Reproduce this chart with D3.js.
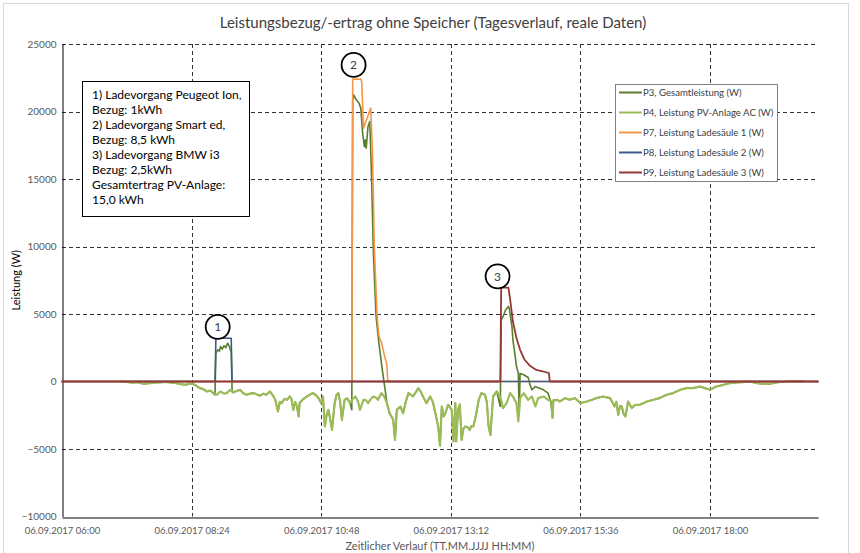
<!DOCTYPE html>
<html>
<head>
<meta charset="utf-8">
<script src="https://cdn.jsdelivr.net/npm/d3@7"></script>
<style>
  html, body { margin: 0; padding: 0; background: #fff; }
  svg { display: block; font-family: Lato, "Open Sans", sans-serif; }
</style>
</head>
<body>
<svg id="chart" width="860" height="553"></svg>
<script>
// ---------------- DATA ----------------
const titleText = "Leistungsbezug/-ertrag ohne Speicher (Tagesverlauf, reale Daten)";
const xAxisTitle = "Zeitlicher Verlauf (TT.MM.JJJJ HH:MM)";
const yAxisTitle = "Leistung (W)";
const dateText = "06.09.2017";

const xTickTimes = ["06:00", "08:24", "10:48", "13:12", "15:36", "18:00"];
const xDomain = ["06:00", "20:00"];
const yTicks = [-10000, -5000, 0, 5000, 10000, 15000, 20000, 25000];

const seriesNames = [
  "P3, Gesamtleistung (W)",
  "P4, Leistung PV-Anlage AC (W)",
  "P7, Leistung Ladesäule 1 (W)",
  "P8, Leistung Ladesäule 2 (W)",
  "P9, Leistung Ladesäule 3 (W)"
];

// P4: PV-Anlage (W)
const p4 = [
  ["07:06", 0], ["07:12", -30], ["07:18", -90], ["07:24", -60], ["07:30", -170], ["07:38", -120],
  ["07:45", -60], ["07:49", -74], ["07:55", -30], ["08:00", -74], ["08:07", -124], ["08:12", -200],
  ["08:18", -245], ["08:22", -150], ["08:25", -170], ["08:29", -300], ["08:33", -490], ["08:37", -560],
  ["08:41", -740], ["08:45", -680], ["08:48", -860], ["08:52", -985], ["08:56", -740], ["09:00", -900],
  ["09:03", -860], ["09:07", -615], ["09:10", -810], ["09:14", -700], ["09:18", -615], ["09:21", -850],
  ["09:25", -985], ["09:29", -900], ["09:33", -860], ["09:36", -950], ["09:40", -1060], ["09:44", -900],
  ["09:47", -985], ["09:51", -740], ["09:54", -1000], ["09:57", -1355], ["10:00", -2220], ["10:02", -1500],
  ["10:04", -1600], ["10:07", -1300], ["10:10", -1355], ["10:13", -1110], ["10:15", -1300], ["10:17", -2100],
  ["10:19", -1500], ["10:21", -1850], ["10:23", -2590], ["10:24", -1600], ["10:28", -1300], ["10:32", -1110],
  ["10:36", -950], ["10:39", -860], ["10:42", -1000], ["10:45", -1230], ["10:48", -1600], ["10:50", -1110],
  ["10:52", -3330], ["10:54", -2500], ["10:56", -2100], ["10:58", -2800], ["11:00", -3580], ["11:03", -1600],
  ["11:05", -1000], ["11:07", -860], ["11:09", -1500], ["11:11", -2840], ["11:14", -1355], ["11:17", -1250],
  ["11:20", -1600], ["11:23", -1300], ["11:26", -1110], ["11:29", -1500], ["11:31", -2100], ["11:35", -1355],
  ["11:38", -1400], ["11:40", -1600], ["11:43", -1300], ["11:46", -1110], ["11:49", -1200], ["11:51", -1355],
  ["11:55", -860], ["11:58", -1100], ["12:01", -1600], ["12:04", -2350], ["12:08", -2840], ["12:10", -4320],
  ["12:12", -2100], ["12:16", -1850], ["12:19", -2350], ["12:22", -1500], ["12:25", -860], ["12:28", -1000],
  ["12:30", -1110], ["12:33", -800], ["12:36", -490], ["12:39", -800], ["12:41", -1110], ["12:45", -1600],
  ["12:49", -1110], ["12:52", -1500], ["12:54", -2100], ["12:58", -3330], ["13:00", -4760], ["13:02", -1850],
  ["13:04", -2590], ["13:06", -2350], ["13:09", -1725], ["13:13", -2100], ["13:15", -4440], ["13:17", -1600],
  ["13:18", -4440], ["13:20", -2100], ["13:22", -1700], ["13:24", -4320], ["13:26", -3500], ["13:28", -3330],
  ["13:31", -3400], ["13:33", -3580], ["13:35", -3300], ["13:37", -3330], ["13:40", -2500], ["13:43", -1355],
  ["13:46", -860], ["13:50", -985], ["13:52", -1500], ["13:54", -3330], ["13:56", -3950], ["13:59", -1110],
  ["14:03", -740], ["14:07", -1110], ["14:10", -1970], ["14:14", -1600], ["14:18", -860], ["14:21", -1110],
  ["14:25", -1600], ["14:27", -2960], ["14:29", -1230], ["14:33", -860], ["14:38", -1355], ["14:42", -1110],
  ["14:46", -1850], ["14:49", -1230], ["14:55", -1110], ["15:00", -1355], ["15:04", -1480], ["15:05", -2700],
  ["15:06", -1400], ["15:10", -1355], ["15:13", -1480], ["15:19", -1230], ["15:24", -1355], ["15:30", -1230],
  ["15:36", -1600], ["15:43", -1480], ["15:49", -1355], ["15:54", -1230], ["16:01", -1110], ["16:09", -1230],
  ["16:14", -1850], ["16:16", -1500], ["16:18", -2470], ["16:20", -1800], ["16:22", -1850], ["16:24", -2400],
  ["16:26", -2590], ["16:29", -1480], ["16:33", -1970], ["16:37", -1725], ["16:42", -1725], ["16:50", -1480],
  ["16:57", -1355], ["17:04", -1230], ["17:12", -985], ["17:19", -860], ["17:27", -615], ["17:34", -490],
  ["17:41", -490], ["17:49", -370], ["17:54", -490], ["18:00", -615], ["18:07", -370], ["18:15", -245],
  ["18:22", -124], ["18:30", -74], ["18:37", -50], ["18:44", 0], ["18:52", -124], ["18:59", -170],
  ["19:07", -170], ["19:14", -74], ["19:25", 0], ["19:36", 30], ["19:44", 0]
];

// P3: Gesamtleistung (W)
const p3 = [
  ["07:06", 0], ["07:12", -30], ["07:18", -90], ["07:24", -60], ["07:30", -170], ["07:38", -120],
  ["07:45", -60], ["07:49", -74], ["07:55", -30], ["08:00", -74], ["08:07", -124], ["08:12", -200],
  ["08:18", -245], ["08:22", -150], ["08:25", -170], ["08:29", -300], ["08:33", -490], ["08:37", -560],
  ["08:41", -740], ["08:45", -680], ["08:48", -860], ["08:50", -1000], ["08:51", 2100], ["08:53", 2350],
  ["08:55", 2250], ["08:56", 2590], ["08:58", 2400], ["09:00", 2650], ["09:02", 2500], ["09:04", 2840],
  ["09:06", 2600], ["09:07", 2350], ["09:08", 2200], ["09:09", -650], ["09:10", -810], ["09:14", -700],
  ["09:18", -615], ["09:21", -850], ["09:25", -985], ["09:29", -900], ["09:33", -860], ["09:36", -950],
  ["09:40", -1060], ["09:44", -900], ["09:47", -985], ["09:51", -740], ["09:54", -1000], ["09:57", -1355],
  ["10:00", -2220], ["10:02", -1500], ["10:04", -1600], ["10:07", -1300], ["10:10", -1355], ["10:13", -1110],
  ["10:15", -1300], ["10:17", -2100], ["10:19", -1500], ["10:21", -1850], ["10:23", -2590], ["10:24", -1600],
  ["10:28", -1300], ["10:32", -1110], ["10:36", -950], ["10:39", -860], ["10:42", -1000], ["10:45", -1230],
  ["10:48", -1600], ["10:50", -1110], ["10:52", -3330], ["10:54", -2500], ["10:56", -2100], ["10:58", -2800],
  ["11:00", -3580], ["11:03", -1600], ["11:05", -1000], ["11:07", -860], ["11:09", -1500], ["11:11", -2840],
  ["11:14", -1355], ["11:17", -1250], ["11:20", -1600], ["11:22", -2100], ["11:23", 20800], ["11:24", 21240],
  ["11:27", 20870], ["11:30", 20620], ["11:32", 20250], ["11:34", 18400], ["11:36", 17400], ["11:37", 17900],
  ["11:38", 17290], ["11:40", 18890], ["11:42", 19260], ["11:44", 15000], ["11:46", 9500], ["11:49", 4800],
  ["11:52", 2900], ["11:56", 800], ["11:59", -600], ["12:01", -1600], ["12:04", -2350], ["12:08", -2840],
  ["12:10", -4320], ["12:12", -2100], ["12:16", -1850], ["12:19", -2350], ["12:22", -1500], ["12:25", -860],
  ["12:28", -1000], ["12:30", -1110], ["12:33", -800], ["12:36", -490], ["12:39", -800], ["12:41", -1110],
  ["12:45", -1600], ["12:49", -1110], ["12:52", -1500], ["12:54", -2100], ["12:58", -3330], ["13:00", -4760],
  ["13:02", -1850], ["13:04", -2590], ["13:06", -2350], ["13:09", -1725], ["13:13", -2100], ["13:15", -4440],
  ["13:17", -1600], ["13:18", -4440], ["13:20", -2100], ["13:22", -1700], ["13:24", -4320], ["13:26", -3500],
  ["13:28", -3330], ["13:31", -3400], ["13:33", -3580], ["13:35", -3300], ["13:37", -3330], ["13:40", -2500],
  ["13:43", -1355], ["13:46", -860], ["13:50", -985], ["13:52", -1500], ["13:54", -3330], ["13:56", -3950],
  ["13:59", -1110], ["14:03", -740], ["14:07", -1850], ["14:08", 4570], ["14:10", 4800], ["14:13", 5310],
  ["14:16", 5560], ["14:17", 5400], ["14:20", 4070], ["14:21", 3090], ["14:23", 2120], ["14:25", 1110],
  ["14:27", 620], ["14:28", -2500], ["14:29", 600], ["14:33", 500], ["14:38", 300], ["14:40", -245],
  ["14:42", -615], ["14:46", -370], ["14:50", -490], ["14:55", -615], ["15:00", -860], ["15:03", -1480],
  ["15:05", -2700], ["15:06", -1400], ["15:10", -1355], ["15:13", -1480], ["15:19", -1230], ["15:24", -1355],
  ["15:30", -1230], ["15:36", -1600], ["15:43", -1480], ["15:49", -1355], ["15:54", -1230], ["16:01", -1110],
  ["16:09", -1230], ["16:14", -1850], ["16:16", -1500], ["16:18", -2470], ["16:20", -1800], ["16:22", -1850],
  ["16:24", -2400], ["16:26", -2590], ["16:29", -1480], ["16:33", -1970], ["16:37", -1725], ["16:42", -1725],
  ["16:50", -1480], ["16:57", -1355], ["17:04", -1230], ["17:12", -985], ["17:19", -860], ["17:27", -615],
  ["17:34", -490], ["17:41", -490], ["17:49", -370], ["17:54", -490], ["18:00", -615], ["18:07", -370],
  ["18:15", -245], ["18:22", -124], ["18:30", -74], ["18:37", -50], ["18:44", 0], ["18:52", -124],
  ["18:59", -170], ["19:07", -170], ["19:14", -74], ["19:25", 0], ["19:36", 60], ["19:44", 0]
];

// P7: Ladesäule 1 (W)
const p7 = [
  ["06:00", 0], ["11:22", 0], ["11:23", 22400], ["11:32", 22400], ["11:33", 22220], ["11:35", 18770],
  ["11:43", 20250], ["11:45", 17000], ["11:47", 10000], ["11:50", 5000], ["11:52", 3400], ["11:55", 2870],
  ["11:58", 2000], ["12:01", 1240], ["12:02", 0], ["20:00", 0]
];

// P8: Ladesäule 2 (W)
const p8 = [
  ["06:00", 0], ["08:50", 0], ["08:51", 3200], ["09:08", 3200], ["09:09", 0], ["20:00", 0]
];

// P9: Ladesäule 3 (W)
const p9 = [
  ["06:00", 0], ["14:07", 0], ["14:08", 6960], ["14:16", 6960], ["14:18", 6050], ["14:21", 4440],
  ["14:25", 3210], ["14:29", 2350], ["14:34", 1610], ["14:40", 1160], ["14:47", 860], ["14:55", 740],
  ["15:01", 620], ["15:02", 0], ["20:00", 0]
];

const seriesColors = ["#5a7d2e", "#9bbb59", "#f79646", "#3a5e8c", "#953735"];
const seriesWidths = [1.6, 2.2, 1.6, 1.6, 1.8];

// numbered markers: [label, time, value]
const markers = [["1", "08:53", 4050], ["2", "11:24", 23450], ["3", "14:04", 7790]];

const noteLines = [
  "1) Ladevorgang Peugeot Ion,",
  "Bezug: 1kWh",
  "2) Ladevorgang Smart ed,",
  "Bezug: 8,5 kWh",
  "3) Ladevorgang BMW i3",
  "Bezug: 2,5kWh",
  "Gesamtertrag PV-Anlage:",
  "15,0 kWh"
];

// ---------------- DRAW ----------------
const svg = d3.select("#chart");
const parse = d3.timeParse("%Y-%m-%d %H:%M");
const T = s => parse("2017-09-06 " + s);

const L = 62, R = 818, TOP = 44, BOT = 516.5;
const x = d3.scaleTime().domain(xDomain.map(T)).range([L, R]);
const y = d3.scaleLinear().domain([-10000, 25000]).range([BOT, TOP]);
const fmt = d3.timeFormat("%H:%M");

// outer chart border
svg.append("rect").attr("x", 3.5).attr("y", 3.5).attr("width", 845).attr("height", 560)
  .attr("fill", "#fff").attr("stroke", "#d9d9d9").attr("stroke-width", 1);

// title
svg.append("text").attr("x", 433).attr("y", 28).attr("text-anchor", "middle")
  .attr("font-size", 15).attr("fill", "#404040").text(titleText);

// horizontal gridlines (the zero line is covered by the series)
svg.append("g").selectAll("line").data(yTicks.filter(v => v > -10000 && v !== 0)).join("line")
  .attr("x1", L).attr("x2", R)
  .attr("y1", d => Math.round(y(d)) + 0.5).attr("y2", d => Math.round(y(d)) + 0.5)
  .attr("stroke", "#333").attr("stroke-width", 1).attr("stroke-dasharray", "4,3");

// vertical gridlines
svg.append("g").selectAll("line").data(xTickTimes.slice(1)).join("line")
  .attr("x1", d => Math.round(x(T(d))) + 0.5).attr("x2", d => Math.round(x(T(d))) + 0.5)
  .attr("y1", TOP).attr("y2", BOT)
  .attr("stroke", "#333").attr("stroke-width", 1).attr("stroke-dasharray", "4,3");

// axes via d3
const yAxis = d3.axisLeft(y).tickValues(yTicks).tickSize(0).tickPadding(6).tickFormat(d3.format("d"));
const gy = svg.append("g").attr("transform", `translate(${L + 0.5},0)`).call(yAxis);
gy.select(".domain").attr("stroke", "#000");
gy.selectAll("text").attr("font-size", 10).attr("fill", "#595959").attr("font-family", "Lato, sans-serif");

const xAxis = d3.axisBottom(x).tickValues(xTickTimes.map(T)).tickSize(0).tickPadding(10)
  .tickFormat(d => dateText + " " + fmt(d));
const gx = svg.append("g").attr("transform", `translate(0,${Math.round(BOT) + 0.5})`).call(xAxis);
gx.select(".domain").attr("stroke", "#000");
gx.selectAll("text").attr("font-size", 9.5).attr("fill", "#595959").attr("font-family", "Lato, sans-serif");

// axis titles
svg.append("text").attr("x", (L + R) / 2).attr("y", 550).attr("text-anchor", "middle")
  .attr("font-size", 11).attr("fill", "#595959").text(xAxisTitle);
svg.append("text").attr("transform", `translate(20,${(TOP + BOT) / 2}) rotate(-90)`)
  .attr("text-anchor", "middle").attr("font-size", 11).attr("fill", "#000").text(yAxisTitle);

// series
const line = d3.line().x(d => x(T(d[0]))).y(d => y(d[1])).curve(d3.curveLinear);
const allSeries = [p3, p4, p7, p8, p9];
allSeries.forEach((s, i) => {
  svg.append("path").datum(s).attr("d", line).attr("fill", "none")
    .attr("stroke", seriesColors[i]).attr("stroke-width", seriesWidths[i])
    .attr("stroke-linejoin", "round").attr("stroke-linecap", "round");
});

// numbered markers
const mk = svg.append("g").selectAll("g").data(markers).join("g")
  .attr("transform", d => `translate(${x(T(d[1]))},${y(d[2])})`);
mk.append("circle").attr("r", 12).attr("fill", "#fff").attr("stroke", "#000").attr("stroke-width", 1.8);
mk.append("text").attr("text-anchor", "middle").attr("dy", "0.36em").attr("font-size", 12)
  .attr("fill", "#404040").text(d => d[0]);

// note box
svg.append("rect").attr("x", 82.5).attr("y", 81.5).attr("width", 167).attr("height", 135)
  .attr("fill", "#fff").attr("stroke", "#000").attr("stroke-width", 1);
svg.append("g").selectAll("text").data(noteLines).join("text")
  .attr("x", 92).attr("y", (d, i) => 99 + i * 15).attr("font-size", 12).attr("fill", "#000").text(d => d);

// legend
svg.append("rect").attr("x", 615.5).attr("y", 84.5).attr("width", 162).attr("height", 97)
  .attr("fill", "#fff").attr("stroke", "#808080").attr("stroke-width", 1);
const lg = svg.append("g").selectAll("g").data(seriesNames).join("g")
  .attr("transform", (d, i) => `translate(619,${92.5 + i * 20})`);
lg.append("line").attr("x1", 0).attr("x2", 23).attr("y1", 0).attr("y2", 0)
  .attr("stroke", (d, i) => seriesColors[i]).attr("stroke-width", 2);
lg.append("text").attr("x", 24).attr("dy", "0.35em").attr("font-size", 9.6).attr("fill", "#404040").text(d => d);
</script>
</body>
</html>
